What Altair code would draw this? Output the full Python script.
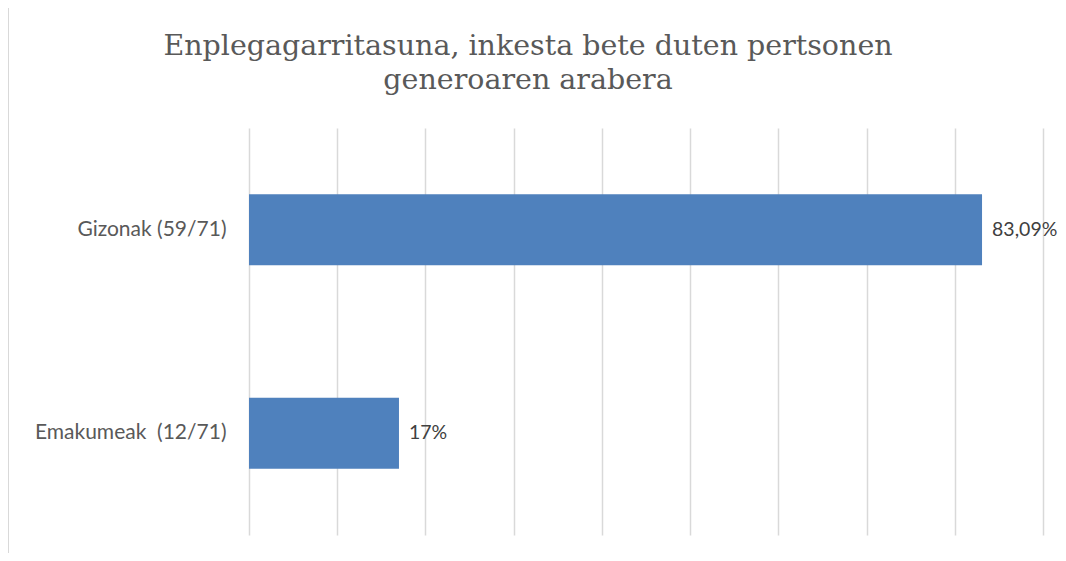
import altair as alt
import pandas as pd

categories = ["Gizonak (59/71)", "Emakumeak\u00a0\u00a0(12/71)"]
values = [0.8309, 0.17]
value_labels = ["83,09%", "17%"]
grid_values = [0, 0.1, 0.2, 0.3, 0.4, 0.5, 0.6, 0.7, 0.8, 0.9]
title_lines = ["Enplegagarritasuna, inkesta bete duten pertsonen", "generoaren arabera"]

df = pd.DataFrame({"cat": categories, "val": values, "lab": value_labels})

x_scale = alt.Scale(domain=[0, 0.9], nice=False, zero=True)
y_scale = alt.Scale(paddingInner=0.65, paddingOuter=0.325)

base = alt.Chart(df)

bars = base.mark_bar(color="#4f81bd").encode(
    x=alt.X("val:Q", scale=x_scale,
            axis=alt.Axis(values=grid_values, labels=False, ticks=False, domain=False,
                          grid=True, gridColor="#d9d9d9", gridWidth=1.5, title=None)),
    y=alt.Y("cat:N", sort=categories, scale=y_scale,
            axis=alt.Axis(title=None, ticks=False, domain=False, labelPadding=23,
                          labelFont="Lato", labelFontSize=21, labelColor="#595959",
                          labelLimit=400)),
)

texts = base.mark_text(align="left", baseline="middle", dx=10, font="Lato",
                       fontSize=19.5, color="#404040").encode(
    x=alt.X("val:Q", scale=x_scale),
    y=alt.Y("cat:N", sort=categories, scale=y_scale),
    text="lab:N",
)

border = alt.Chart(pd.DataFrame({"b": [0]})).mark_rect(
    fill=None, stroke="#d9d9d9", strokeWidth=2
).encode(
    x=alt.value(-241), x2=alt.value(1000),
    y=alt.value(-121), y2=alt.value(600),
)

chart = alt.layer(border, bars, texts).properties(
    width=794,
    height=407,
    padding={"left": 241, "top": 120, "right": 15, "bottom": 18},
    autosize=alt.AutoSizeParams(type="none"),
    title=alt.Title(title_lines, font="DejaVu Serif", fontSize=28.5, fontWeight="normal",
                    color="#595959", anchor="middle", frame="group", dx=-118,
                    offset=-88, lineHeight=34),
).configure_view(stroke=None)

chart.save("out.html", embed_options={"renderer": "svg", "actions": False})
